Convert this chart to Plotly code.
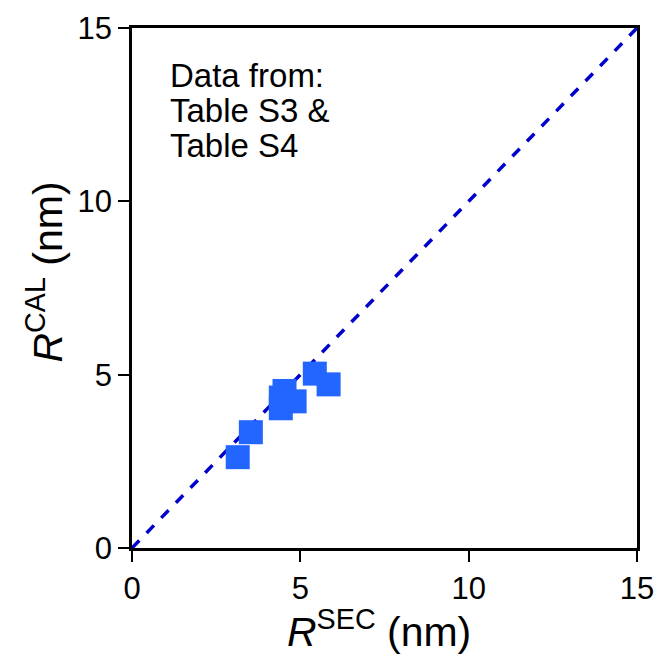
import plotly.graph_objects as go

r_sec = [3.14, 3.53, 4.42, 4.42, 4.53, 4.83, 5.43, 5.84]
r_cal = [2.62, 3.34, 4.03, 4.34, 4.53, 4.23, 5.03, 4.72]
line_x = [0, 15]
line_y = [0, 15]
tick_vals = [0, 5, 10, 15]
tick_text = ["0", "5", "10", "15"]
note_lines = ["Data from:", "Table S3 &amp;", "Table S4"]
note_y = [13.64, 12.63, 11.62]
x_title = "<i>R</i><sup>SEC</sup> (nm)"
y_title = "<i>R</i><sup>CAL</sup> (nm)"

FONT = "Liberation Sans, Arial, sans-serif"

fig = go.Figure()
fig.add_trace(go.Scatter(x=line_x, y=line_y, mode="lines",
                         line=dict(color="#0000CC", width=3.5, dash="dash"),
                         showlegend=False, hoverinfo="skip"))
fig.add_trace(go.Scatter(x=r_sec, y=r_cal, mode="markers",
                         marker=dict(symbol="square", size=24, color="#2266FF",
                                     line=dict(width=0)),
                         showlegend=False))

axis_common = dict(range=[0, 15], tickvals=tick_vals, ticktext=tick_text,
                   showgrid=False, zeroline=False, showline=True,
                   linecolor="black", linewidth=2.5, ticks="outside",
                   ticklen=11, tickwidth=2, tickcolor="black",
                   tickfont=dict(family=FONT, size=31, color="black"),
                   ticklabeloverflow="allow", automargin=False,
                   mirror=True)

fig.update_layout(
    width=659, height=655,
    margin=dict(l=132, r=22, t=28, b=107),
    plot_bgcolor="white", paper_bgcolor="white",
    xaxis=dict(**axis_common),
    yaxis=dict(**axis_common),
)
for txt, yy in zip(note_lines, note_y):
    fig.add_annotation(x=1.07, y=yy, xref="x", yref="y",
                       xanchor="left", yanchor="middle", align="left",
                       showarrow=False, text=txt,
                       font=dict(family=FONT, size=33, color="black"))

# axis titles
fig.add_annotation(x=0.49, y=-0.155, xref="paper", yref="paper",
                   xanchor="center", yanchor="middle", showarrow=False,
                   text=x_title, font=dict(family=FONT, size=41, color="black"))
fig.add_annotation(x=-0.172, y=0.53, xref="paper", yref="paper",
                   xanchor="center", yanchor="middle", showarrow=False,
                   textangle=-90,
                   text=y_title, font=dict(family=FONT, size=41, color="black"))

fig.write_html("out.html", config={"displayModeBar": False},
               post_script="document.body.style.margin='0px';")
